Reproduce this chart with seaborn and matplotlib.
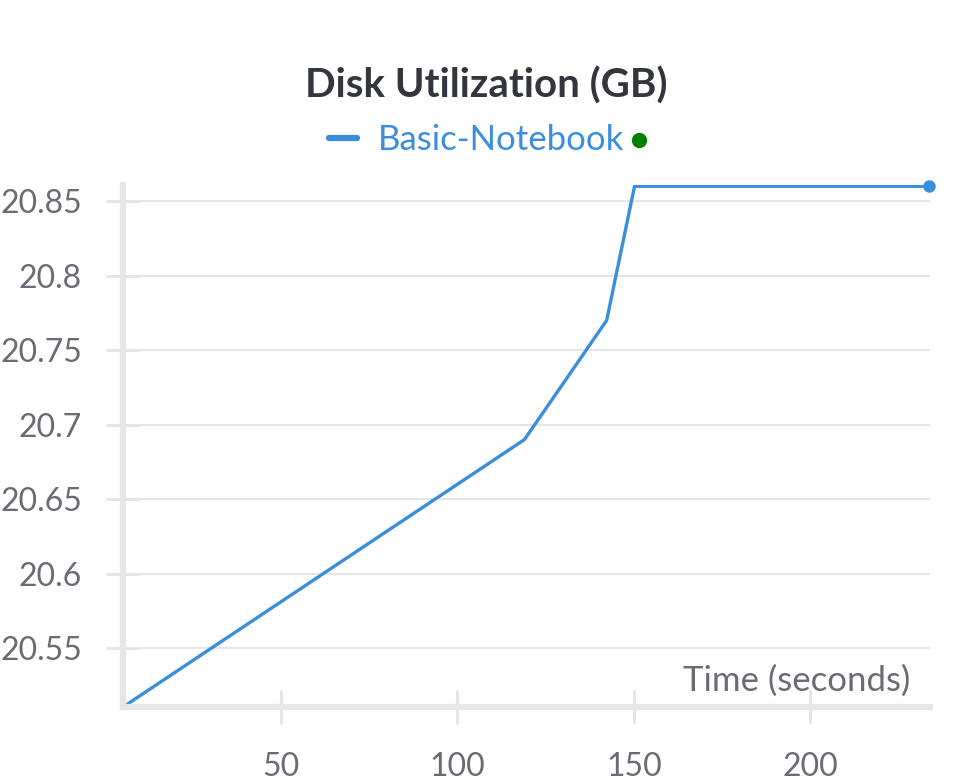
import matplotlib
matplotlib.use("Agg")
import matplotlib.pyplot as plt
from matplotlib.lines import Line2D
import seaborn as sns
import pandas as pd

# data
time_s = [5.2, 119.0, 142.3, 150.2, 233.8]
disk_gb = [20.5105, 20.69, 20.77, 20.86, 20.86]
yticks = [20.55, 20.6, 20.65, 20.7, 20.75, 20.8, 20.85]
ytick_labels = ["20.55", "20.6", "20.65", "20.7", "20.75", "20.8", "20.85"]
xticks = [50, 100, 150, 200]
run_name = "Basic-Notebook"

blue = "#3a8edb"
grey = "#e6e6e6"
tick_col = "#6b6b76"

sns.set_style("white")
plt.rcParams["font.family"] = ["Lato", "DejaVu Sans"]

df = pd.DataFrame({"time": time_s, "disk": disk_gb})

fig = plt.figure(figsize=(9.72, 7.83), dpi=100)
ax = fig.add_axes([0.1265, 0.097, 0.8305, 0.667])

sns.lineplot(data=df, x="time", y="disk", ax=ax, color=blue, linewidth=2.4, label=run_name)
ax.plot(time_s[-1], disk_gb[-1], "o", color=blue, markersize=8, clip_on=False)

ax.set_xlim(5.2, 234)
ax.set_ylim(20.5105, 20.861)
ax.set_xticks(xticks)
ax.set_xticklabels([str(t) for t in xticks])
ax.set_yticks(yticks)
ax.set_yticklabels(ytick_labels)

ax.yaxis.grid(True, color=grey, linewidth=1.5)
ax.xaxis.grid(False)
for s in ["top", "right"]:
    ax.spines[s].set_visible(False)
for s in ["left", "bottom"]:
    ax.spines[s].set_color(grey)
    ax.spines[s].set_linewidth(4.5)

ax.tick_params(axis="both", bottom=True, left=True, direction="inout", length=25,
               width=2.2, color=grey, labelcolor=tick_col, labelsize=23)
ax.tick_params(axis="x", pad=20)
ax.tick_params(axis="y", pad=17)

ax.set_xlabel("")
ax.set_ylabel("")
ax.text(0.975, 0.02, "Time (seconds)", transform=ax.transAxes, ha="right", va="bottom",
        fontsize=25, color=tick_col)

fig.text(0.5, 0.891, "Disk Utilization (GB)", ha="center", va="center",
         fontsize=29, fontweight="bold", color="#33373d")

leg = ax.legend(loc="center", bbox_to_anchor=(0.49, 0.821), bbox_transform=fig.transFigure,
                frameon=False, fontsize=25, handlelength=0.8, handletextpad=0.6,
                labelcolor=blue)
for h in leg.legend_handles:
    h.set_linewidth(4.5)
fig.add_artist(Line2D([0.657], [0.821], marker="o", color="green", markersize=10,
                      transform=fig.transFigure))

fig.savefig("out.png", dpi=100)
